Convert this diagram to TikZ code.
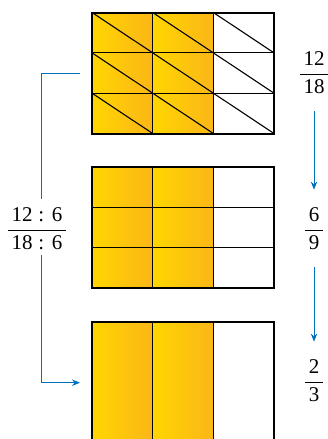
\documentclass[tikz,border=0pt]{standalone}
\usepackage{fontspec}
\setmainfont{Liberation Serif}
\usetikzlibrary{arrows.meta}
\definecolor{goldL}{RGB}{255,214,0}
\definecolor{goldR}{RGB}{251,182,24}
\definecolor{arrblue}{RGB}{0,114,188}
\newcommand{\fr}[2]{$\displaystyle\frac{\hbox{\,#1\,}}{\hbox{\,#2\,}}$}
\begin{document}
\begin{tikzpicture}[x=1pt,y=-1pt,
  frac/.style={font=\fontsize{21}{25}\selectfont, inner sep=0pt},
  conn/.style={draw=arrblue, line width=1pt},
  tipped/.style={-{Stealth[length=8pt,width=6.5pt]}},
  cellfill/.style={left color=goldL, right color=goldR},
  gridline/.style={line width=1.2pt, line cap=rect},
  outer/.style={line width=2pt},
  panel/.style={minimum width=182pt, minimum height=121pt, inner sep=0pt, anchor=north west}]
\useasboundingbox (0,0) rectangle (328,439);
\clip (0,0) rectangle (328,439);

% panels (anchors)
\node[panel] (r1) at (92,12.5) {};
\node[panel] (r2) at (92,167) {};
\node[panel] (r3) at (92,322) {};

\def\cw{60.667}
\def\rh{40.333}
% top panel: 3x3 cells, two shaded columns, diagonals
\foreach \r in {0,1,2}{
  \foreach \c in {0,1}{
    \fill[cellfill] ({92+\c*\cw},{12.5+\r*\rh}) rectangle ++(\cw,\rh);
  }
  \foreach \c in {0,1,2}{
    \draw[line width=1.1pt] ({92+\c*\cw},{12.5+\r*\rh}) -- ++(\cw,\rh);
  }
}
\foreach \c in {1,2} \draw[gridline] ({92+\c*\cw},12.5) -- ++(0,121);
\foreach \r in {1,2} \draw[gridline] (92,{12.5+\r*\rh}) -- ++(182,0);
\draw[outer] (r1.north west) rectangle (r1.south east);

% middle panel: 3x3 cells
\foreach \r in {0,1,2}{
  \foreach \c in {0,1}{
    \fill[cellfill] ({92+\c*\cw},{167+\r*\rh}) rectangle ++(\cw,\rh);
  }
}
\foreach \c in {1,2} \draw[gridline] ({92+\c*\cw},167) -- ++(0,121);
\foreach \r in {1,2} \draw[gridline] (92,{167+\r*\rh}) -- ++(182,0);
\draw[outer] (r2.north west) rectangle (r2.south east);

% bottom panel: 3 columns
\foreach \c in {0,1}{
  \fill[cellfill] ({92+\c*\cw},322) rectangle ++(\cw,121);
}
\foreach \c in {1,2} \draw[gridline] ({92+\c*\cw},322) -- ++(0,121);
\draw[outer] (r3.north west) rectangle (r3.south east);

% fractions on the right
\node[frac] (f1) at (314,73) {\fr{12}{18}};
\node[frac] (f2) at (314,229) {\fr{6}{9}};
\node[frac] (f3) at (314,381) {\fr{2}{3}};
\draw[conn, tipped, shorten <=17pt, shorten >=18pt] (f1.south) -- (f2.north);
\draw[conn, tipped, shorten <=17pt, shorten >=18pt] (f2.south) -- (f3.north);

% left bracket
\node[frac] (lf) at (37,229) {\fr{12\hspace{0.28em}:\hspace{0.36em}6}{18\hspace{0.28em}:\hspace{0.36em}6}};
\coordinate (s) at ([xshift=-12pt]r1.west);
\coordinate (e) at ([xshift=-12pt]r3.west);
\draw[conn, shorten >=9pt] (s) -| ([xshift=4pt]lf.north);
\draw[conn, tipped, shorten <=5pt] ([xshift=4pt]lf.south) |- (e);
\end{tikzpicture}
\end{document}
